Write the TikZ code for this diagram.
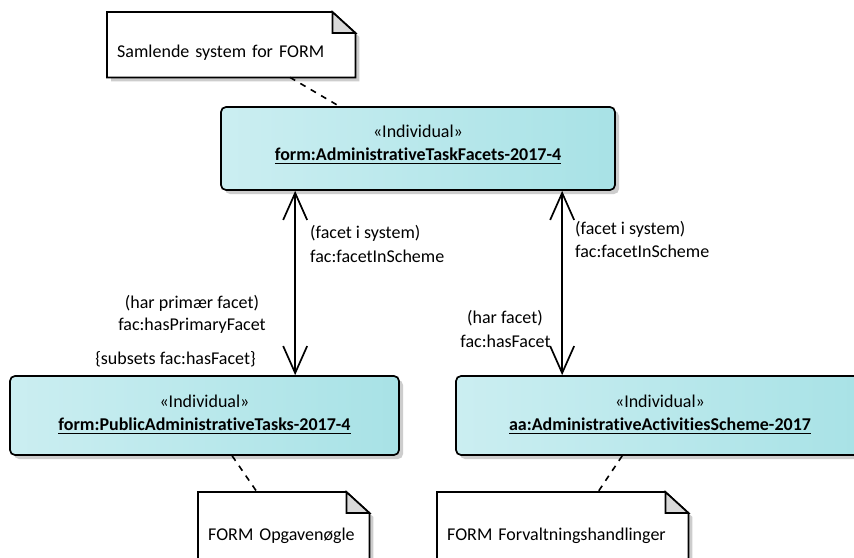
\documentclass[tikz,border=0pt]{standalone}
\usepackage{fontspec}
\setmainfont{Carlito}[Ligatures={NoCommon}]
\usetikzlibrary{arrows.meta,shadows,backgrounds}

\definecolor{boxL}{RGB}{203,238,241}
\definecolor{boxR}{RGB}{168,226,230}
\definecolor{shadecol}{RGB}{205,205,205}
\definecolor{foldcol}{RGB}{217,217,217}

\newcommand\myul[1]{\setbox0\hbox{#1}\leavevmode\rlap{\vrule height -3.0pt depth 4.4pt width \wd0}\box0}
\newcommand\notepath[2]{([xshift=#2,yshift=-#2]#1.north west) -- ([xshift=-23pt+#2,yshift=-#2]#1.north east) -- ([xshift=#2,yshift=-21pt-#2]#1.north east) -- ([xshift=#2,yshift=-#2]#1.south east) -- ([xshift=#2,yshift=-#2]#1.south west) -- cycle}
\newcommand\drawnote[1]{%
  \fill[shadecol] \notepath{#1}{4pt};
  \filldraw[fill=white, draw=black, line width=1.7pt] \notepath{#1}{0pt};
  \filldraw[fill=foldcol, draw=black, line width=1.7pt, line join=miter] ([xshift=-23pt]#1.north east) -- ([xshift=-23pt,yshift=-21pt]#1.north east) -- ([yshift=-21pt]#1.north east) -- cycle;}

\begin{document}
\begin{tikzpicture}[x=1pt,y=-1pt,
  font=\fontsize{18}{23}\selectfont,
  ind/.style={rectangle, rounded corners=5pt, draw=black, line width=1.7pt,
    left color=boxL, right color=boxR, inner sep=0pt,
    drop shadow={shadow xshift=4pt, shadow yshift=-4pt, fill=shadecol, opacity=1}},
  indtext/.style={inner sep=0pt, anchor=base},
  note/.style={rectangle, inner sep=0pt, inner xsep=10pt, align=left, anchor=north west},
  lbl/.style={inner sep=0pt},
  assoc/.style={line width=1.7pt, {Straight Barb[length=27pt,width=24pt]}-{Straight Barb[length=27pt,width=24pt]}},
  anchorline/.style={line width=1.6pt, dash pattern=on 6pt off 6pt}
]
\useasboundingbox (0,0) rectangle (854,557);

% notes
\node[note, minimum width=248pt, text width=228pt, text height=45pt, text depth=20pt] (n1) at (107,12) {Samlende system for FORM};
\node[note, minimum width=171pt, text width=151pt, text height=48pt, text depth=60pt] (n2) at (198,492) {FORM Opgavenøgle};
\node[note, minimum width=251pt, text width=231pt, text height=48pt, text depth=60pt] (n3) at (437,492) {FORM Forvaltningshandlinger};
\begin{pgfonlayer}{background}
  \fill[white] (0,0) rectangle (854,557);
  \drawnote{n1}
  \drawnote{n2}
  \drawnote{n3}
\end{pgfonlayer}

% individuals
\node[ind, minimum width=394pt, minimum height=83pt] (top) at (418,148.5) {};
\node[indtext] (topst) at (418,137) {«Individual»};
\node[indtext] (topnm) at (418,160) {\myul{\textbf{form:AdministrativeTaskFacets-2017-4}}};

\node[ind, minimum width=389pt, minimum height=79pt] (pub) at (204.5,415.5) {};
\node[indtext] (pubst) at (204.5,407) {«Individual»};
\node[indtext] (pubnm) at (204.5,430) {\myul{\textbf{form:PublicAdministrativeTasks-2017-4}}};

\node[ind, minimum width=408pt, minimum height=79pt] (aa) at (660,415.5) {};
\node[indtext] (aast) at (660,407) {«Individual»};
\node[indtext] (aanm) at (660,430) {\myul{\textbf{aa:AdministrativeActivitiesScheme-2017}}};

% note anchors
\draw[anchorline] ([xshift=183pt]n1.south west) -- ([xshift=119pt]top.north west);
\draw[anchorline] ([xshift=223pt]pub.south west) -- ([xshift=59pt]n2.north west);
\draw[anchorline] ([xshift=167pt]aa.south west) -- ([xshift=161pt]n3.north west);

% associations
\draw[assoc] ([xshift=75pt]top.south west) -- ([xshift=286pt]pub.north west);
\draw[assoc] ([xshift=342pt]top.south west) -- ([xshift=107pt]aa.north west);

% labels
\node[lbl, anchor=base west] (la1) at (310,238) {(facet i system)};
\node[lbl, anchor=base west] (la2) at (310,262) {fac:facetInScheme};
\node[lbl, anchor=base] (lb1) at (192,308) {(har primær facet)};
\node[lbl, anchor=base] (lb2) at (192,330) {fac:hasPrimaryFacet};
\node[lbl, anchor=base] (lb3) at (175.5,364) {\{subsets fac:hasFacet\}};
\node[lbl, anchor=base west] (ra1) at (575,234) {(facet i system)};
\node[lbl, anchor=base west] (ra2) at (575,257) {fac:facetInScheme};
\node[lbl, anchor=base] (rb1) at (505,323) {(har facet)};
\node[lbl, anchor=base] (rb2) at (505.5,347) {fac:hasFacet};
\end{tikzpicture}
\end{document}
